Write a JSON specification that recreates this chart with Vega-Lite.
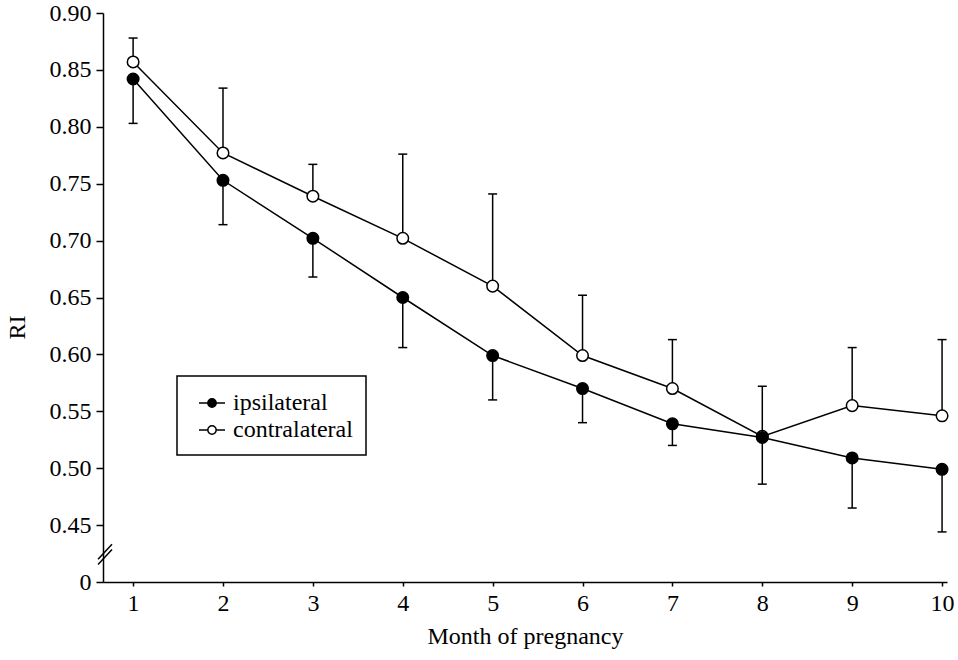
{
  "$schema": "https://vega.github.io/schema/vega-lite/v6.json",
  "width": 844,
  "height": 569,
  "autosize": "none",
  "padding": {"left": 103, "top": 13, "right": 11, "bottom": 78},
  "background": "white",
  "config": {
    "view": {"stroke": null},
    "font": "Liberation Serif",
    "axis": {
      "grid": false,
      "domainColor": "black",
      "domainWidth": 1.5,
      "tickColor": "black",
      "tickWidth": 1.5,
      "labelColor": "black",
      "titleColor": "black",
      "labelFont": "Liberation Serif",
      "titleFont": "Liberation Serif",
      "labelFontSize": 24,
      "titleFontSize": 24,
      "titleFontWeight": "normal"
    },
    "legend": {"strokeWidth": 1.5, "labelFont": "Liberation Serif"}
  },
  "data": {
    "values": [
      {"month": 1, "group": "contralateral", "ri": 0.857, "bar": 0.878},
      {"month": 2, "group": "contralateral", "ri": 0.777, "bar": 0.834},
      {"month": 3, "group": "contralateral", "ri": 0.739, "bar": 0.767},
      {"month": 4, "group": "contralateral", "ri": 0.702, "bar": 0.776},
      {"month": 5, "group": "contralateral", "ri": 0.660, "bar": 0.741},
      {"month": 6, "group": "contralateral", "ri": 0.599, "bar": 0.652},
      {"month": 7, "group": "contralateral", "ri": 0.570, "bar": 0.613},
      {"month": 8, "group": "contralateral", "ri": 0.528, "bar": 0.572},
      {"month": 9, "group": "contralateral", "ri": 0.555, "bar": 0.606},
      {"month": 10, "group": "contralateral", "ri": 0.546, "bar": 0.613},
      {"month": 1, "group": "ipsilateral", "ri": 0.842, "bar": 0.803},
      {"month": 2, "group": "ipsilateral", "ri": 0.753, "bar": 0.714},
      {"month": 3, "group": "ipsilateral", "ri": 0.702, "bar": 0.668},
      {"month": 4, "group": "ipsilateral", "ri": 0.650, "bar": 0.606},
      {"month": 5, "group": "ipsilateral", "ri": 0.599, "bar": 0.560},
      {"month": 6, "group": "ipsilateral", "ri": 0.570, "bar": 0.540},
      {"month": 7, "group": "ipsilateral", "ri": 0.539, "bar": 0.520},
      {"month": 8, "group": "ipsilateral", "ri": 0.527, "bar": 0.486},
      {"month": 9, "group": "ipsilateral", "ri": 0.509, "bar": 0.465},
      {"month": 10, "group": "ipsilateral", "ri": 0.499, "bar": 0.444}
    ]
  },
  "encoding": {
    "x": {
      "field": "month",
      "type": "quantitative",
      "scale": {"domain": [0.665, 10.055], "nice": false, "zero": false},
      "axis": {
        "values": [1, 2, 3, 4, 5, 6, 7, 8, 9, 10],
        "title": "Month of pregnancy",
        "tickSize": 4,
        "labelPadding": 5,
        "titlePadding": 9
      }
    },
    "y": {
      "field": "ri",
      "type": "quantitative",
      "scale": {"domain": [0.4, 0.9], "nice": false, "zero": false},
      "axis": {
        "values": [0.4, 0.45, 0.5, 0.55, 0.6, 0.65, 0.7, 0.75, 0.8, 0.85, 0.9],
        "labelExpr": "datum.value < 0.42 ? '0' : format(datum.value, '.2f')",
        "title": "RI",
        "tickSize": 7,
        "labelPadding": 5,
        "titleX": -86,
        "titleY": 314,
        "titleAngle": -90,
        "titleBaseline": "middle",
        "titleAlign": "center"
      }
    }
  },
  "layer": [
    {
      "mark": {"type": "rule", "color": "black", "strokeWidth": 1.5},
      "encoding": {"y2": {"field": "bar"}}
    },
    {
      "mark": {"type": "tick", "orient": "horizontal", "size": 9, "thickness": 1.5, "color": "black", "opacity": 1},
      "encoding": {"y": {"field": "bar", "type": "quantitative"}}
    },
    {
      "mark": {"type": "line", "color": "black", "strokeWidth": 1.5},
      "encoding": {"detail": {"field": "group"}}
    },
    {
      "mark": {"type": "point", "shape": "circle", "size": 133, "stroke": "black", "strokeWidth": 1.5, "opacity": 1, "filled": false},
      "encoding": {
        "fill": {
          "field": "group",
          "type": "nominal",
          "scale": {"domain": ["ipsilateral", "contralateral"], "range": ["black", "white"]},
          "legend": {
            "title": null,
            "orient": "none",
            "legendX": 74,
            "legendY": 363,
            "strokeColor": "black",
            "padding": 13,
            "labelFontSize": 24,
            "labelFont": "Liberation Serif",
            "labelColor": "black",
            "symbolType": "M-1,0L-0.32,0M0.32,0L1,0M0.32,0A0.32,0.32,0,1,1,-0.32,0A0.32,0.32,0,1,1,0.32,0Z",
            "symbolSize": 676,
            "symbolStrokeColor": "black",
            "symbolStrokeWidth": 1.5,
            "symbolOpacity": 1,
            "symbolOffset": 8,
            "labelOffset": 7,
            "rowPadding": 1
          }
        }
      }
    },
    {
      "transform": [{"filter": "datum.month == 1 && datum.group == 'ipsilateral'"}],
      "mark": {"type": "rule", "color": "black", "strokeWidth": 1.5, "clip": false},
      "encoding": {
        "x": {"datum": 0.61, "type": "quantitative"},
        "x2": {"datum": 0.765},
        "y": {"datum": 0.4154, "type": "quantitative"},
        "y2": {"datum": 0.4286}
      }
    },
    {
      "transform": [{"filter": "datum.month == 1 && datum.group == 'ipsilateral'"}],
      "mark": {"type": "rule", "color": "black", "strokeWidth": 1.5, "clip": false},
      "encoding": {
        "x": {"datum": 0.61, "type": "quantitative"},
        "x2": {"datum": 0.765},
        "y": {"datum": 0.4199, "type": "quantitative"},
        "y2": {"datum": 0.4331}
      }
    }
  ]
}
